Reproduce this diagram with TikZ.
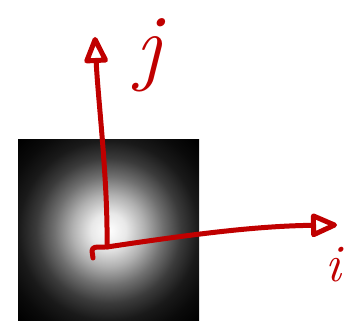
\documentclass[tikz,border=0pt]{standalone}
\usetikzlibrary{arrows.meta}
\definecolor{PenRed}{RGB}{192,0,0}
\pgfdeclareradialshading{glow}{\pgfpoint{0bp}{0bp}}{color(0bp)=(white); color(10bp)=(white!91!black); color(20.5bp)=(white!69!black); color(30.7bp)=(white!44!black); color(41bp)=(white!23!black); color(51bp)=(white!10!black); color(61bp)=(white!4!black); color(72bp)=(black); color(75bp)=(black)}
\tikzset{
  >=Latex,
  basis/.style={draw=PenRed,line width=0.1cm,line cap=round,line join=round,-{Triangle[open,round,length=0.6cm,width=0.5cm]}},
  handlabel/.style={text=PenRed,inner sep=0pt},
}

\begin{document}
\begin{tikzpicture}[x=0.02cm,y=-0.02cm]
  \useasboundingbox (0,0) rectangle (358,323);
  % fuzzy blob
  \begin{scope}
    \clip (18,140) rectangle (199,321);
    \fill[black] (18,140) rectangle (199,321);
    \node[inner sep=0pt] (glow) at (108.5,230.5) {\pgfuseshading{glow}};
  \end{scope}
  \coordinate (o) at (107,247);
  \coordinate (hook) at (93,258);
  \coordinate (itip) at (337,225);
  \coordinate (jtip) at (95,37);
  \draw[basis] (hook) -- (92,251) .. controls (93,247) .. (o) .. controls (200,233) and (260,226) .. (itip);
  \draw[basis] (o) .. controls (108,180) and (98,100) .. (jtip);
  \node[handlabel,font={\fontsize{49}{52}\selectfont\itshape}] (jlabel) at (148,55) {j};
  \node[handlabel,font={\fontsize{30}{33}\selectfont\itshape}] (ilabel) at (333,265) {i};
\end{tikzpicture}
\end{document}
